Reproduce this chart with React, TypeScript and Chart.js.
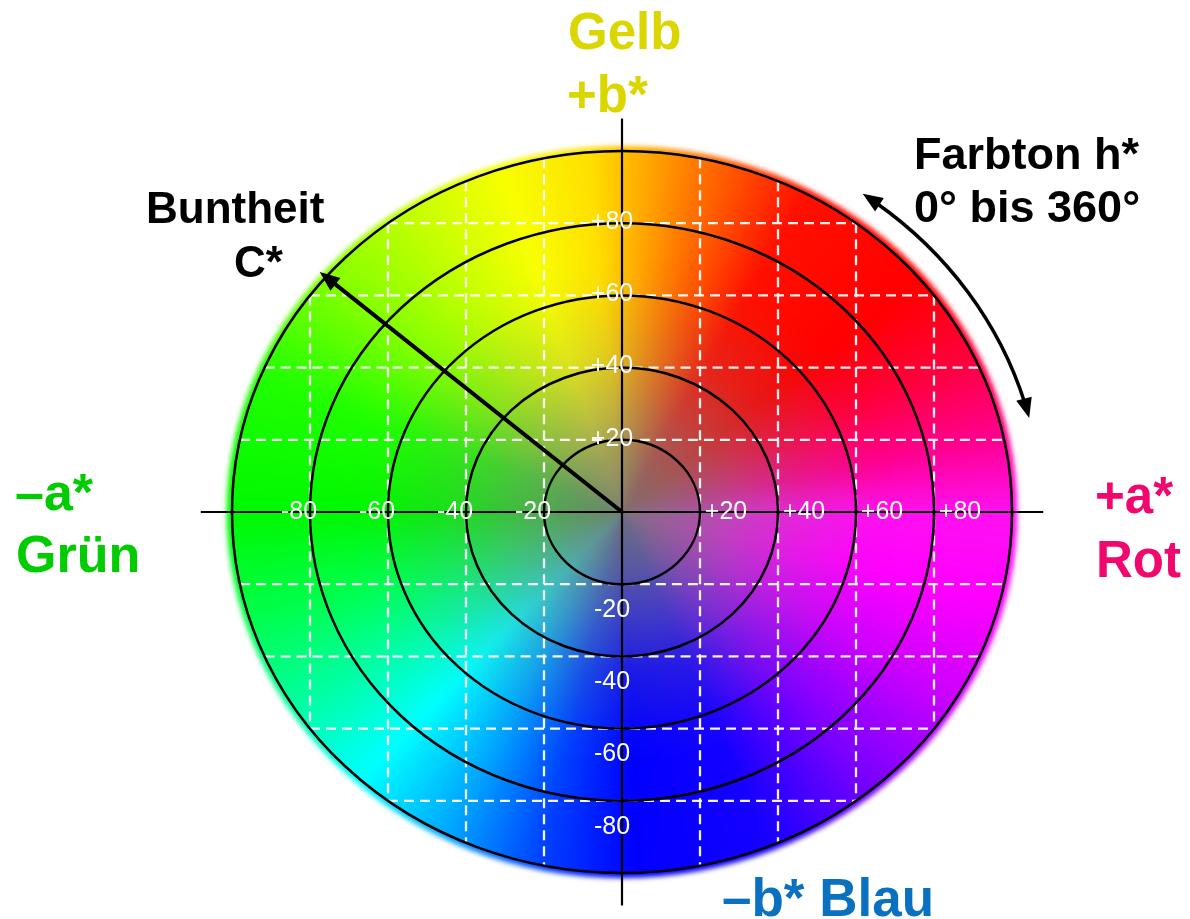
import React, { useEffect, useRef } from "react";
import { Chart, registerables } from "chart.js";

Chart.register(...registerables);

// ---- data ----
const ringRadii = [20, 40, 60, 80, 100];
const gridValues = [-80, -60, -40, -20, 20, 40, 60, 80];
const aTickLabels = ["-80", "-60", "-40", "-20", "+20", "+40", "+60", "+80"];
const bTickLabels = ["-80", "-60", "-40", "-20", "+20", "+40", "+60", "+80"];
const aRange = [-108, 108];
const bRange = [-109, 109];
// hue wheel (angle in degrees from +a*, counter-clockwise) and colours
const hueAngles = [0, 12, 25, 40, 62, 75, 85, 95, 108, 122, 140, 158, 180, 198, 214, 228, 243, 258, 272, 292, 310, 330, 346, 360];
const hueColors = [
  "#ff10f0", "#ff0090", "#ff0040", "#ff0000", "#ff1000", "#ff6000", "#ffa000", "#ffe000",
  "#f8ff00", "#c8ff00", "#80ff00", "#20ff00", "#00f800", "#00ff50", "#00ffa8", "#00ffff",
  "#00a8ff", "#0040ff", "#0000ff", "#1400ff", "#7800ff", "#d000ff", "#ff00ff", "#ff10f0",
];
// chroma arrow tip (a*, b*)
const chromaTip = [-77.5, 66.5];
// hue arc arrow: radius and angle span (degrees)
const hueArcRadius = 107.6;
const hueArcSpan = [14, 55];

const labPlugin = {
  id: "labWheel",
  beforeDatasetsDraw(chart: any) {
    const ctx: CanvasRenderingContext2D = chart.ctx;
    const xs = chart.scales.x;
    const ys = chart.scales.y;
    const cx = xs.getPixelForValue(0);
    const cy = ys.getPixelForValue(0);
    const ux = xs.getPixelForValue(1) - cx;
    const uy = cy - ys.getPixelForValue(1);
    const R = ringRadii[ringRadii.length - 1];

    // colour wheel
    ctx.save();
    ctx.filter = "blur(2.5px)";
    ctx.translate(cx, cy);
    ctx.scale(ux, uy);
    const cg = (ctx as any).createConicGradient(0, 0, 0);
    hueAngles.forEach((a, i) => {
      cg.addColorStop((360 - a) / 360, hueColors[i]);
    });
    ctx.fillStyle = cg;
    ctx.beginPath();
    ctx.arc(0, 0, R + 1.4, 0, Math.PI * 2);
    ctx.fill();
    const rg = ctx.createRadialGradient(0, 0, 0, 0, 0, R);
    rg.addColorStop(0, "rgba(118,120,118,0.92)");
    rg.addColorStop(0.15, "rgba(122,124,122,0.72)");
    rg.addColorStop(0.3, "rgba(128,128,128,0.45)");
    rg.addColorStop(0.45, "rgba(128,128,128,0.2)");
    rg.addColorStop(0.6, "rgba(128,128,128,0.05)");
    rg.addColorStop(0.7, "rgba(128,128,128,0)");
    ctx.fillStyle = rg;
    ctx.beginPath();
    ctx.arc(0, 0, R + 1.4, 0, Math.PI * 2);
    ctx.fill();
    ctx.restore();

    // dashed grid clipped to outer ring
    ctx.save();
    ctx.strokeStyle = "rgba(255,255,255,0.95)";
    ctx.lineWidth = 2.3;
    ctx.setLineDash([10, 6]);
    gridValues.forEach((v) => {
      const h = Math.sqrt(R * R - v * v);
      ctx.beginPath();
      ctx.moveTo(xs.getPixelForValue(v), ys.getPixelForValue(h));
      ctx.lineTo(xs.getPixelForValue(v), ys.getPixelForValue(-h));
      ctx.stroke();
      ctx.beginPath();
      ctx.moveTo(xs.getPixelForValue(-h), ys.getPixelForValue(v));
      ctx.lineTo(xs.getPixelForValue(h), ys.getPixelForValue(v));
      ctx.stroke();
    });
    ctx.restore();

    // rings
    ctx.save();
    ctx.strokeStyle = "#000";
    ctx.lineWidth = 2.5;
    ringRadii.forEach((r) => {
      ctx.beginPath();
      ctx.ellipse(cx, cy, r * ux, r * uy, 0, 0, Math.PI * 2);
      ctx.stroke();
    });
    // axes
    ctx.lineWidth = 2.2;
    ctx.beginPath();
    ctx.moveTo(xs.getPixelForValue(aRange[0]), cy);
    ctx.lineTo(xs.getPixelForValue(aRange[1]), cy);
    ctx.moveTo(cx, ys.getPixelForValue(bRange[1]));
    ctx.lineTo(cx, ys.getPixelForValue(bRange[0]));
    ctx.stroke();

    // chroma arrow
    const tx = xs.getPixelForValue(chromaTip[0]);
    const ty = ys.getPixelForValue(chromaTip[1]);
    const ang = Math.atan2(ty - cy, tx - cx);
    const hl = 20, hw = 8;
    ctx.lineWidth = 4;
    ctx.beginPath();
    ctx.moveTo(cx, cy);
    ctx.lineTo(tx - Math.cos(ang) * hl * 0.8, ty - Math.sin(ang) * hl * 0.8);
    ctx.stroke();
    const drawHead = (px: number, py: number, a: number, L: number, W: number) => {
      ctx.beginPath();
      ctx.moveTo(px, py);
      ctx.lineTo(px - Math.cos(a) * L - Math.sin(a) * W, py - Math.sin(a) * L + Math.cos(a) * W);
      ctx.lineTo(px - Math.cos(a) * L + Math.sin(a) * W, py - Math.sin(a) * L - Math.cos(a) * W);
      ctx.closePath();
      ctx.fillStyle = "#000";
      ctx.fill();
    };
    drawHead(tx, ty, ang, hl, hw);

    // hue arc arrow
    const A = hueArcRadius * ux;
    const B = hueArcRadius * uy;
    const t1 = (-hueArcSpan[1] * Math.PI) / 180;
    const t2 = (-hueArcSpan[0] * Math.PI) / 180;
    const d = 0.04;
    ctx.lineWidth = 3.5;
    ctx.beginPath();
    ctx.ellipse(cx, cy, A, B, 0, t1 + d, t2 - d);
    ctx.stroke();
    const p1x = cx + A * Math.cos(t1), p1y = cy + B * Math.sin(t1);
    const a1 = Math.atan2(-B * Math.cos(t1), A * Math.sin(t1));
    drawHead(p1x, p1y, a1, 20, 8);
    const p2x = cx + A * Math.cos(t2), p2y = cy + B * Math.sin(t2);
    const a2 = Math.atan2(B * Math.cos(t2), -A * Math.sin(t2));
    drawHead(p2x, p2y, a2, 20, 8);
    ctx.restore();

    // tick labels
    ctx.save();
    ctx.fillStyle = "#fff";
    ctx.font = "25px 'Liberation Sans', Arial, sans-serif";
    ctx.textAlign = "center";
    ctx.textBaseline = "middle";
    gridValues.forEach((v, i) => {
      const px = xs.getPixelForValue(v) + (v < 0 ? -11 : 26);
      ctx.fillText(aTickLabels[i], px, cy);
    });
    gridValues.forEach((v, i) => {
      const py = ys.getPixelForValue(v) + (v > 0 ? -1 : 26);
      ctx.fillText(bTickLabels[i], cx - 10, py);
    });
    ctx.restore();
  },
  afterDraw(chart: any) {
    const ctx: CanvasRenderingContext2D = chart.ctx;
    ctx.save();
    ctx.textAlign = "left";
    ctx.textBaseline = "alphabetic";
    const bold = (s: number) => `bold ${s}px 'Liberation Sans', Arial, sans-serif`;
    ctx.fillStyle = "#dcd600";
    ctx.font = bold(51);
    ctx.fillText("Gelb", 568, 49);
    ctx.fillText("+b*", 567, 112);
    ctx.fillStyle = "#000";
    ctx.font = bold(45);
    ctx.fillText("Farbton h*", 914, 169);
    ctx.fillText("0° bis 360°", 914, 222);
    ctx.font = bold(44);
    ctx.fillText("Buntheit", 146, 223);
    ctx.fillText("C*", 234, 277);
    ctx.fillStyle = "#00cc00";
    ctx.font = bold(52);
    ctx.fillText("–a*", 15, 510);
    ctx.fillText("Grün", 16, 572);
    ctx.fillStyle = "#f0086c";
    ctx.font = bold(51);
    ctx.fillText("+a*", 1095, 513);
    ctx.fillText("Rot", 1096, 577);
    ctx.fillStyle = "#0a70c0";
    ctx.font = bold(53);
    ctx.fillText("–b* Blau", 722, 916);
    ctx.restore();
  },
};

export default function App() {
  const ref = useRef<HTMLCanvasElement | null>(null);
  useEffect(() => {
    if (!ref.current) return;
    const chart = new Chart(ref.current, {
      type: "scatter",
      data: { datasets: [{ data: [], pointRadius: 0 }] },
      options: {
        responsive: false,
        animation: false,
        devicePixelRatio: 1,
        layout: { padding: { left: 200.8, right: 146.8, top: 118.5, bottom: 13.5 } },
        plugins: { legend: { display: false }, tooltip: { enabled: false } },
        scales: {
          x: { type: "linear", min: aRange[0], max: aRange[1], display: false },
          y: { type: "linear", min: bRange[0], max: bRange[1], display: false },
        },
      },
      plugins: [labPlugin],
    });
    return () => chart.destroy();
  }, []);
  return (
    <div style={{ position: "absolute", left: 0, top: 0, width: 1190, height: 919, background: "#fff" }}>
      <canvas ref={ref} width={1190} height={919} style={{ display: "block" }} />
    </div>
  );
}
